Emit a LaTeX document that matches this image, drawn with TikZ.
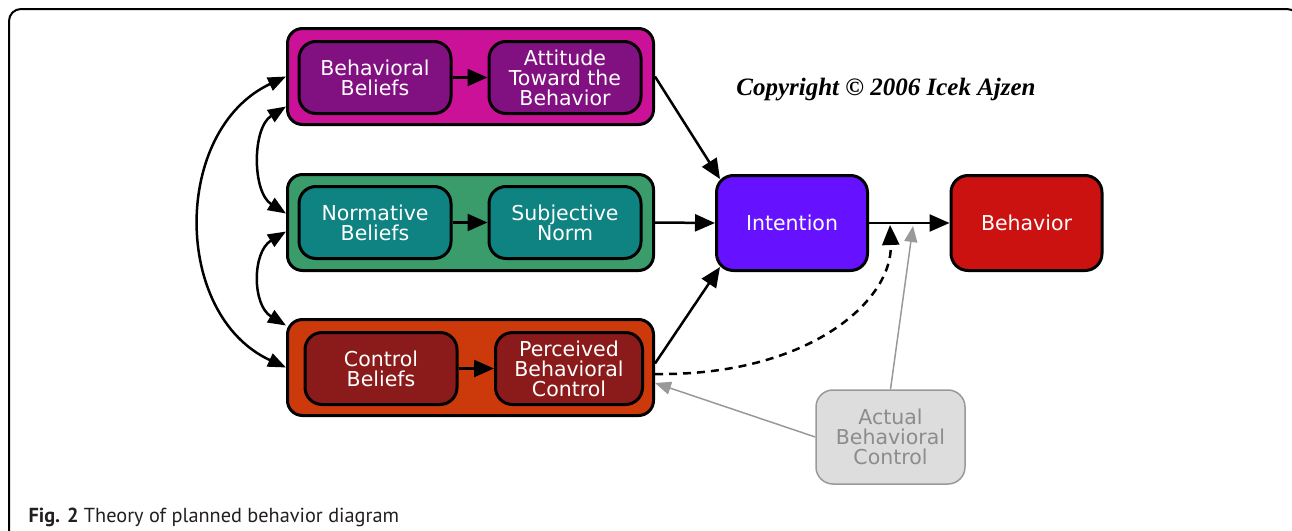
\documentclass[tikz,border=0pt]{standalone}
\usepackage{fontspec}
\setmainfont{DejaVu Sans}
\newfontfamily\copyfont{Liberation Serif}
\newfontfamily\capfont{PT Sans}
\usepackage{tikz}
\usetikzlibrary{arrows.meta}

\definecolor{tpbmagenta}{HTML}{CC1199}
\definecolor{tpbpurple}{HTML}{811180}
\definecolor{tpbgreen}{HTML}{3A9B6B}
\definecolor{tpbteal}{HTML}{0F8282}
\definecolor{tpborange}{HTML}{CC3A0C}
\definecolor{tpbdarkred}{HTML}{8B1A1A}
\definecolor{tpbviolet}{HTML}{6611FF}
\definecolor{tpbred}{HTML}{CC1111}
\definecolor{tpbgrayfill}{HTML}{DDDDDD}
\definecolor{tpbgrayline}{HTML}{999999}
\definecolor{tpbgraytext}{HTML}{8C8C8C}
\definecolor{capgray}{HTML}{231F20}

\begin{document}
\begin{tikzpicture}[x=1pt, y=-1pt,
    groupbox/.style={draw=black, line width=3pt, rounded corners=15pt,
        minimum width=366pt, minimum height=96pt},
    innerbox/.style={draw=black, line width=3pt, rounded corners=17pt,
        minimum width=152pt, minimum height=72pt, align=center,
        text=white, font=\fontsize{20.5}{20}\selectfont},
    mainbox/.style={innerbox, minimum width=151pt, minimum height=95pt},
    arr/.style={line width=2.5pt, -{Triangle[length=20pt, width=17pt]}},
    dblarr/.style={line width=2.5pt,
        {Triangle[length=18pt, width=14pt]}-{Triangle[length=18pt, width=14pt]}},
    grayarr/.style={draw=tpbgrayline, line width=1.5pt,
        -{Triangle[length=16pt, width=13pt]}}
]
    \useasboundingbox (0,0) rectangle (1292,530);

    % Frame
    \draw[line width=2pt, rounded corners=12pt] (9,545) -- (9,9) -- (1299,9) -- (1299,545);

    % Groups
    \node[groupbox, fill=tpbmagenta] (attgrp) at (470.5,76.5) {};
    \node[groupbox, fill=tpbgreen] (normgrp) at (470.5,222.5) {};
    \node[groupbox, fill=tpborange] (ctlgrp) at (470.5,367.5) {};

    % Beliefs and their results
    \node[innerbox, fill=tpbpurple] (bb) at (375,77.5) {Behavioral\\Beliefs};
    \node[innerbox, fill=tpbpurple] (att) at (565,77.5) {Attitude\\Toward the\\Behavior};
    \node[innerbox, fill=tpbteal] (nb) at (375,222.5) {Normative\\Beliefs};
    \node[innerbox, fill=tpbteal] (sn) at (565,222.5) {Subjective\\Norm};
    \node[innerbox, fill=tpbdarkred] (cb) at (381,368.5) {Control\\Beliefs};
    \node[innerbox, fill=tpbdarkred, minimum width=147pt] (pbc) at (569,368.5) {Perceived\\Behavioral\\Control};

    % Intention and behavior
    \node[mainbox, fill=tpbviolet] (int) at (792,223) {Intention};
    \node[mainbox, fill=tpbred] (beh) at (1026.5,223) {Behavior};
    \node[innerbox, fill=tpbgrayfill, draw=tpbgrayline, line width=1.5pt, text=tpbgraytext,
        minimum width=149pt, minimum height=94pt] (abc) at (890.5,437) {Actual\\Behavioral\\Control};

    \node (copy) at (886,90) {\copyfont\bfseries\itshape\fontsize{25}{29}\selectfont Copyright © 2006 Icek Ajzen};

    % Arrows
    \draw[arr] (bb) -- (att);
    \draw[arr] (nb) -- (sn);
    \draw[arr] (cb) -- (pbc);
    \draw[arr] (attgrp.east) -- ([xshift=5pt, yshift=-5pt]int.north west);
    \draw[arr] (normgrp.east) -- (int.west);
    \draw[arr] ([yshift=4pt]ctlgrp.east) -- ([xshift=5pt, yshift=5pt]int.south west);
    \draw[arr] (int) -- (beh);
    \draw[arr, dash pattern=on 8pt off 6pt] ([yshift=-6.5pt]ctlgrp.east)
        .. controls (810,376) and (893,300) .. ([xshift=21pt, yshift=-2pt]int.east);
    \draw[grayarr] (abc.north) -- ([xshift=44pt, yshift=-3pt]int.east);
    \draw[grayarr] (abc.west) -- ([yshift=-15.5pt]ctlgrp.east);

    % Links between beliefs
    \draw[dblarr] (attgrp.west) .. controls (172,130) and (172,315) .. (ctlgrp.west);
    \draw[dblarr] ([yshift=-30pt]attgrp.west) .. controls (252,128) and (252,192) .. ([yshift=9pt]normgrp.west);
    \draw[dblarr] ([yshift=-9pt]normgrp.west) .. controls (252,252) and (252,305) .. ([yshift=42pt]ctlgrp.west);

    % Caption
    \node[anchor=base west, text=capgray] (cap) at (25,522)
        {\capfont\fontsize{20.3}{24}\selectfont\textbf{Fig. 2} Theory of planned behavior diagram};
\end{tikzpicture}
\end{document}
